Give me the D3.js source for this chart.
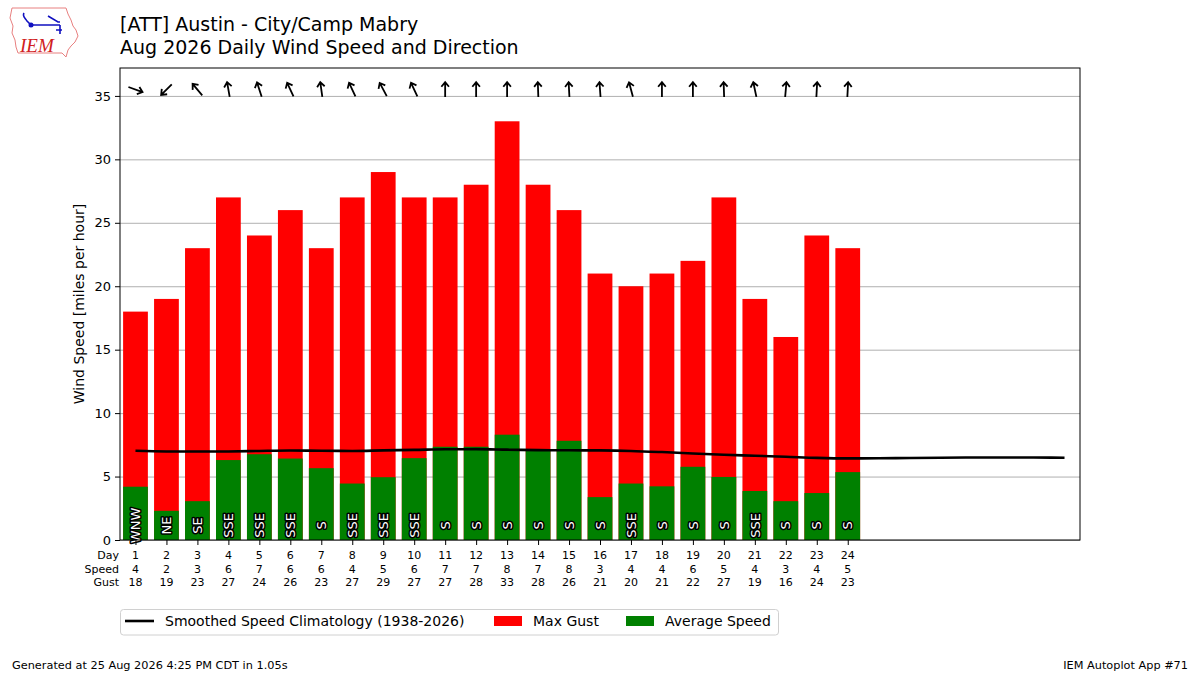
<!DOCTYPE html>
<html><head><meta charset="utf-8">
<script src="https://cdn.jsdelivr.net/npm/d3@7"></script>
<style>
body{margin:0;background:#fff;}
svg{display:block;font-family:"DejaVu Sans",sans-serif;}
</style></head>
<body><svg id="c" width="1200" height="675"></svg>
<script>
const days = d3.range(1, 25);
const avgSpeed = [4.2, 2.3, 3.06, 6.3, 6.76, 6.42, 5.66, 4.45, 4.95, 6.45, 7.35, 7.35, 8.3, 7.15, 7.82, 3.38, 4.45, 4.23, 5.77, 4.97, 3.86, 3.06, 3.7, 5.35];
const maxGust = [18, 19, 23, 27, 24, 26, 23, 27, 29, 27, 27, 28, 33, 28, 26, 21, 20, 21, 22, 27, 19, 16, 24, 23];
const dirLabels = ["WNW","NE","SE","SSE","SSE","SSE","S","SSE","SSE","SSE","S","S","S","S","S","S","SSE","S","S","S","SSE","S","S","S"];
const dirDeg = [290, 45, 140, 170, 162, 155, 172, 155, 152, 155, 180, 180, 180, 178, 177, 176, 165, 180, 180, 178, 168, 185, 183, 183];
const climDays = d3.range(1, 32);
const climSpeed = [7.03, 6.98, 6.97, 6.98, 7.02, 7.05, 7.03, 7.02, 7.06, 7.1, 7.15, 7.16, 7.12, 7.08, 7.07, 7.06, 7.02, 6.93, 6.82, 6.72, 6.64, 6.56, 6.47, 6.43, 6.44, 6.46, 6.48, 6.5, 6.5, 6.5, 6.48];
const yTicks = [0, 5, 10, 15, 20, 25, 30, 35];
const titleLines = ["[ATT] Austin - City/Camp Mabry", "Aug 2026 Daily Wind Speed and Direction"];

const svg = d3.select("#c");
const L = 120, R = 1080, T = 68, B = 540;
const x = d3.scaleLinear().domain([0.5, 31.5]).range([L, R]);
const y = d3.scaleLinear().domain([0, 37.2]).range([B, T]);
const bw = x(0.8) - x(0);

// gridlines
svg.append("g").attr("transform", `translate(${L},0)`)
  .call(d3.axisLeft(y).tickValues(yTicks).tickSize(-(R - L)).tickFormat(""))
  .call(g => g.select(".domain").remove())
  .call(g => g.selectAll("line").attr("stroke", "#b0b0b0").attr("stroke-width", 1));

// bars
svg.append("g").selectAll("rect").data(days).join("rect")
  .attr("x", d => x(d) - bw / 2).attr("width", bw)
  .attr("y", (d, i) => y(maxGust[i])).attr("height", (d, i) => B - y(maxGust[i]))
  .attr("fill", "#ff0000");
svg.append("g").selectAll("rect").data(days).join("rect")
  .attr("x", d => x(d) - bw / 2).attr("width", bw)
  .attr("y", (d, i) => y(avgSpeed[i])).attr("height", (d, i) => B - y(avgSpeed[i]))
  .attr("fill", "#008000");

// climatology line
svg.append("path").datum(climDays)
  .attr("d", d3.line().x(d => x(d)).y((d, i) => y(climSpeed[i])).curve(d3.curveMonotoneX))
  .attr("fill", "none").attr("stroke", "#000").attr("stroke-width", 2.6);

// direction labels
svg.append("g").selectAll("text").data(days).join("text")
  .attr("transform", d => `translate(${x(d)},${y(1.15)}) rotate(-90)`)
  .attr("text-anchor", "middle").attr("dy", "0.36em")
  .attr("font-size", 13).attr("fill", "#fff")
  .attr("stroke", "#000").attr("stroke-width", 3).attr("paint-order", "stroke")
  .attr("stroke-linejoin", "round")
  .text((d, i) => dirLabels[i]);

// arrows
const ag = svg.append("g").selectAll("g").data(days).join("g")
  .attr("transform", (d, i) => `translate(${x(d)},${y(35.5)}) rotate(${(dirDeg[i] + 180) % 360})`);
ag.append("path").attr("d", "M0,7.5 L0,-7.5 M-3.8,-2.8 L0,-7.5 L3.8,-2.8")
  .attr("fill", "none").attr("stroke", "#000").attr("stroke-width", 1.8);

// axes frame
svg.append("rect").attr("x", L).attr("y", T).attr("width", R - L).attr("height", B - T)
  .attr("fill", "none").attr("stroke", "#000").attr("stroke-width", 1);

// y axis
const ya = svg.append("g").attr("transform", `translate(${L},0)`)
  .call(d3.axisLeft(y).tickValues(yTicks).tickSize(5).tickPadding(4))
  .call(g => g.select(".domain").remove());
ya.selectAll("text").attr("font-size", 13).attr("font-family", "DejaVu Sans").attr("fill", "#000");
ya.selectAll("line").attr("stroke", "#000");

// x axis ticks
svg.append("g").attr("transform", `translate(0,${B})`)
  .call(d3.axisBottom(x).tickValues(days).tickSize(5).tickFormat(""))
  .call(g => g.select(".domain").remove())
  .selectAll("line").attr("stroke", "#000");

// x rows
const rows = [["Day", days.map(String)], ["Speed", avgSpeed.map(v => String(Math.round(v)))], ["Gust", maxGust.map(String)]];
rows.forEach((r, k) => {
  const yy = 559 + k * 13.5;
  svg.append("text").attr("x", 119).attr("y", yy).attr("text-anchor", "end")
    .attr("font-size", 11).text(r[0]);
  svg.append("g").selectAll("text").data(days).join("text")
    .attr("x", d => x(d)).attr("y", yy).attr("text-anchor", "middle")
    .attr("font-size", 11).text((d, i) => r[1][i]);
});

// y label
svg.append("text").attr("transform", `translate(84,${(T + B) / 2}) rotate(-90)`)
  .attr("text-anchor", "middle").attr("font-size", 14).text("Wind Speed [miles per hour]");

// titles
svg.append("text").attr("x", 120).attr("y", 31).attr("font-size", 19).text(titleLines[0]);
svg.append("text").attr("x", 120).attr("y", 54).attr("font-size", 19).text(titleLines[1]);

// legend
const lg = svg.append("g");
lg.append("rect").attr("x", 120.5).attr("y", 609.5).attr("width", 658).attr("height", 25.5)
  .attr("rx", 3).attr("fill", "#fff").attr("stroke", "#d0d0d0");
lg.append("line").attr("x1", 125).attr("x2", 154).attr("y1", 621).attr("y2", 621)
  .attr("stroke", "#000").attr("stroke-width", 2.6);
lg.append("text").attr("x", 165).attr("y", 626).attr("font-size", 14).text("Smoothed Speed Climatology (1938-2026)");
lg.append("rect").attr("x", 494).attr("y", 616).attr("width", 28).attr("height", 10).attr("fill", "#ff0000");
lg.append("text").attr("x", 533).attr("y", 626).attr("font-size", 14).text("Max Gust");
lg.append("rect").attr("x", 626).attr("y", 616).attr("width", 28).attr("height", 10).attr("fill", "#008000");
lg.append("text").attr("x", 665).attr("y", 626).attr("font-size", 14).text("Average Speed");

// footer
svg.append("text").attr("x", 12).attr("y", 669).attr("font-size", 11.3).text("Generated at 25 Aug 2026 4:25 PM CDT in 1.05s");
svg.append("text").attr("x", 1188).attr("y", 669).attr("text-anchor", "end").attr("font-size", 11.3).text("IEM Autoplot App #71");

// logo
const logo = svg.append("g");
logo.append("path")
  .attr("d", "M12,8 L66,8 L68,14 L71,20 L73,26 L76,30 L78,36 L75,42 L71,46 L68,50 L66,57 L62,53 L18,53 L16,47 L15,40 L12,33 L13,26 L10,18 Z")
  .attr("fill", "none").attr("stroke", "#e88080").attr("stroke-width", 1);
logo.append("path").attr("d", "M24,13 C22,16 25,18 27,21 L31,25 M31,25 L60,25 M48,16 L58,22 L60,22 M60,25 L60,34 M56,30 L62,30")
  .attr("fill", "none").attr("stroke", "#1010c0").attr("stroke-width", 1.6);
logo.append("circle").attr("cx", 31).attr("cy", 25).attr("r", 2.5).attr("fill", "#1010c0");
logo.append("text").attr("x", 20).attr("y", 52).attr("font-family", "Liberation Serif")
  .attr("font-style", "italic").attr("font-size", 19).attr("fill", "#d02020").text("IEM");
</script></body></html>
